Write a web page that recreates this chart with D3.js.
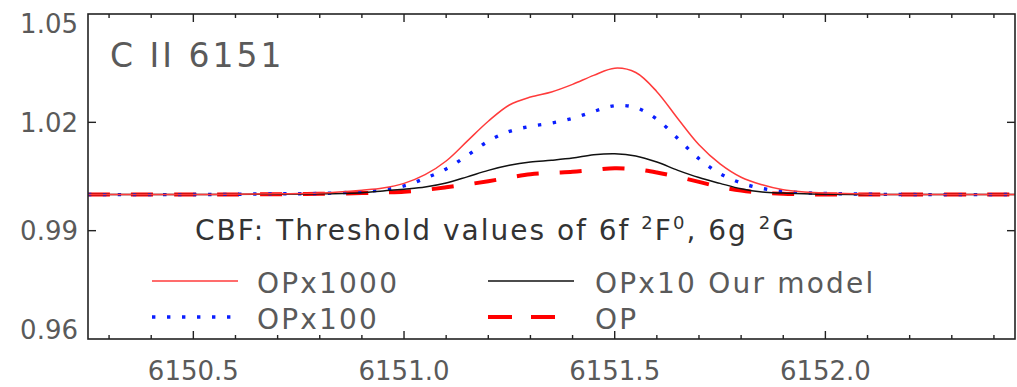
<!DOCTYPE html>
<html>
<head>
<meta charset="utf-8">
<script src="https://cdn.jsdelivr.net/npm/d3@7"></script>
<style>
    body { margin: 0; background: #ffffff; }
    text { font-family: "DejaVu Sans", sans-serif; }
</style>
</head>
<body>
<svg id="chart" width="1017" height="387"></svg>
<script>
// wavelength grid (Angstrom) and normalised flux for each opacity model
const wavelength = [6150.25, 6150.50, 6150.70, 6150.80, 6150.90, 6150.95, 6151.00, 6151.05, 6151.10, 6151.15,
    6151.20, 6151.25, 6151.30, 6151.35, 6151.40, 6151.45, 6151.50, 6151.55, 6151.60, 6151.65,
    6151.70, 6151.75, 6151.80, 6151.85, 6151.90, 6151.95, 6152.00, 6152.10, 6152.20, 6152.45];

const opx1000 = [1.0000, 1.0000, 1.0002, 1.0004, 1.0012, 1.0018, 1.0031, 1.0055, 1.0093, 1.0148,
    1.0203, 1.0248, 1.0270, 1.0284, 1.0305, 1.0330, 1.0350, 1.0338, 1.0285, 1.0210,
    1.0138, 1.0085, 1.0048, 1.0027, 1.0013, 1.0007, 1.0004, 1.0001, 1.0000, 1.0000];

const opx100 = [1.0000, 1.0000, 1.0002, 1.0003, 1.0008, 1.0013, 1.0024, 1.0045, 1.0071, 1.0108,
    1.0148, 1.0175, 1.0189, 1.0198, 1.0211, 1.0230, 1.0246, 1.0241, 1.0209, 1.0155,
    1.0099, 1.0058, 1.0032, 1.0017, 1.0009, 1.0005, 1.0003, 1.0001, 1.0000, 1.0000];

const opx10 = [1.0000, 1.0000, 1.0001, 1.0002, 1.0005, 1.0010, 1.0015, 1.0021, 1.0032, 1.0049,
    1.0067, 1.0081, 1.0090, 1.0095, 1.0101, 1.0110, 1.0113, 1.0107, 1.0090, 1.0067,
    1.0047, 1.0031, 1.0016, 1.0007, 1.0004, 1.0002, 1.0001, 1.0000, 1.0000, 1.0000];

const op = [1.0000, 1.0000, 1.0001, 1.0002, 1.0004, 1.0006, 1.0008, 1.0013, 1.0020, 1.0028,
    1.0037, 1.0047, 1.0056, 1.0060, 1.0063, 1.0068, 1.0073, 1.0070, 1.0061, 1.0049,
    1.0035, 1.0021, 1.0011, 1.0005, 1.0002, 1.0001, 1.0000, 1.0000, 1.0000, 1.0000];

const xMajorTicks = [6150.5, 6151.0, 6151.5, 6152.0];
const xTickLabels = ["6150.5", "6151.0", "6151.5", "6152.0"];
const yTicks = [0.96, 0.99, 1.02, 1.05];
const yTickLabels = ["0.96", "0.99", "1.02", "1.05"];
const legendLabels = ["OPx1000", "OPx100", "OPx10 Our model", "OP"];

const margin = {left: 88, top: 14, right: 2, bottom: 48};
const width = 1017, height = 387;
const svg = d3.select("#chart");

const x = d3.scaleLinear()
    .domain([6150.25, 6152.45])
    .range([margin.left, width - margin.right]);
const y = d3.scaleLinear()
    .domain([0.96, 1.05])
    .range([height - margin.bottom, margin.top]);

const plotLeft = x.range()[0], plotRight = x.range()[1];
const plotTop = y.range()[1], plotBottom = y.range()[0];

// series styles
const series = [
    {label: legendLabels[0], values: opx1000, color: "#ff3b3b", width: 1.5, dash: null},
    {label: legendLabels[1], values: opx100, color: "#0a1eff", width: 3.4, dash: "3.4,11.6"},
    {label: legendLabels[2], values: opx10, color: "#111111", width: 1.5, dash: null},
    {label: legendLabels[3], values: op, color: "#ff0000", width: 4, dash: "22,21"}
];

svg.append("defs").append("clipPath")
    .attr("id", "plot-clip")
    .append("rect")
    .attr("x", plotLeft).attr("y", plotTop)
    .attr("width", plotRight - plotLeft).attr("height", plotBottom - plotTop);

const line = d3.line()
    .x((d, i) => x(wavelength[i]))
    .y(d => y(d))
    .curve(d3.curveCatmullRom.alpha(0.5));

const linesG = svg.append("g").attr("clip-path", "url(#plot-clip)");
// draw the dashed OP first so the others sit on top of it like the original
[3, 1, 2, 0].forEach(function (k) {
    const s = series[k];
    linesG.append("path")
        .datum(s.values)
        .attr("d", line)
        .attr("fill", "none")
        .attr("stroke", s.color)
        .attr("stroke-width", s.width)
        .attr("stroke-dasharray", s.dash);
});

// frame + ticks
const axisColor = "#222222";
const axisG = svg.append("g");
axisG.append("rect")
    .attr("x", plotLeft).attr("y", plotTop)
    .attr("width", plotRight - plotLeft).attr("height", plotBottom - plotTop)
    .attr("fill", "none")
    .attr("stroke", axisColor)
    .attr("stroke-width", 1.6);

const minorTicks = d3.range(6150.3, 6152.45, 0.1).map(v => Math.round(v * 10) / 10)
    .filter(v => xMajorTicks.indexOf(v) < 0);

[plotBottom, plotTop].forEach(function (edge) {
    const dir = edge === plotBottom ? -1 : 1;
    axisG.selectAll(null)
        .data(minorTicks)
        .enter().append("line")
        .attr("x1", d => x(d)).attr("x2", d => x(d))
        .attr("y1", edge).attr("y2", edge + dir * 4)
        .attr("stroke", axisColor).attr("stroke-width", 1.4);
    axisG.selectAll(null)
        .data(xMajorTicks)
        .enter().append("line")
        .attr("x1", d => x(d)).attr("x2", d => x(d))
        .attr("y1", edge).attr("y2", edge + dir * 8)
        .attr("stroke", axisColor).attr("stroke-width", 1.4);
});

[plotLeft, plotRight].forEach(function (edge) {
    const dir = edge === plotLeft ? 1 : -1;
    axisG.selectAll(null)
        .data(yTicks.slice(1, 3))
        .enter().append("line")
        .attr("x1", edge).attr("x2", edge + dir * 8)
        .attr("y1", d => y(d)).attr("y2", d => y(d))
        .attr("stroke", axisColor).attr("stroke-width", 1.4);
});

const labelColor = "#5a5a5a";
axisG.selectAll(null)
    .data(xMajorTicks)
    .enter().append("text")
    .attr("x", d => x(d))
    .attr("y", 380)
    .attr("text-anchor", "middle")
    .attr("fill", labelColor)
    .style("font-size", "26px")
    .text((d, i) => xTickLabels[i]);

// idl keeps the end labels inside the axis length
axisG.selectAll(null)
    .data(yTicks)
    .enter().append("text")
    .attr("x", plotLeft - 10)
    .attr("y", function (d) {
        const c = Math.max(plotTop + 9.5, Math.min(plotBottom - 9.5, y(d)));
        return c + 9.5;
    })
    .attr("text-anchor", "end")
    .attr("fill", labelColor)
    .style("font-size", "26px")
    .text((d, i) => yTickLabels[i]);

// title
svg.append("text")
    .attr("x", 110)
    .attr("y", 67)
    .attr("fill", labelColor)
    .style("font-size", "33px")
    .style("letter-spacing", "3px")
    .text("C II 6151");

// legend header with superscripts
const header = svg.append("text")
    .attr("x", 195)
    .attr("y", 240)
    .attr("fill", "#333333")
    .style("font-size", "28px")
    .style("letter-spacing", "2px");
header.append("tspan").text("CBF: Threshold values of 6f ");
header.append("tspan").attr("dy", -11).style("font-size", "18px").text("2");
header.append("tspan").attr("dy", 11).text("F");
header.append("tspan").attr("dy", -11).style("font-size", "18px").text("0");
header.append("tspan").attr("dy", 11).text(", 6g ");
header.append("tspan").attr("dy", -11).style("font-size", "18px").text("2");
header.append("tspan").attr("dy", 11).text("G");

// legend rows
const legendPos = [
    {x: 152, y: 281},
    {x: 152, y: 317},
    {x: 488, y: 281},
    {x: 488, y: 317}
];
const legendG = svg.append("g");
series.forEach(function (s, i) {
    const p = legendPos[i];
    legendG.append("line")
        .attr("x1", p.x).attr("x2", p.x + (i === 1 ? 82 : 86))
        .attr("y1", p.y).attr("y2", p.y)
        .attr("stroke", s.color)
        .attr("stroke-width", s.width)
        .attr("stroke-dasharray", i === 3 ? "24,19" : s.dash);
    legendG.append("text")
        .attr("x", p.x + (i < 2 ? 105 : 107))
        .attr("y", p.y + 12)
        .attr("fill", labelColor)
        .style("font-size", "28px")
        .style("letter-spacing", "2.2px")
        .text(s.label);
});
</script>
</body>
</html>
